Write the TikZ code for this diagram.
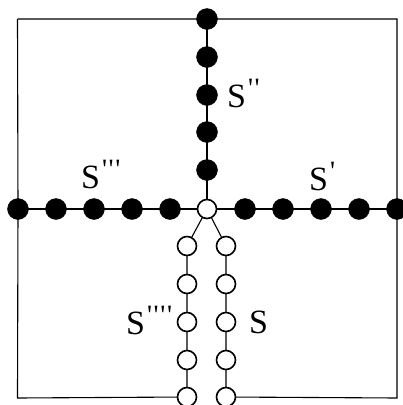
\documentclass[tikz,border=0pt]{standalone}
\usepackage{fontspec}
\setmainfont{Liberation Serif}
\newcommand{\tick}{\textquotesingle\hspace{1.6pt}}
\newcommand{\prm}[1]{\hspace{2pt}\raisebox{10pt}{\fontsize{28}{28}\selectfont #1}}
\begin{document}
\begin{tikzpicture}[x=1pt,y=-1pt,
  full/.style={circle,fill=black,draw=black,minimum size=21pt,inner sep=0pt},
  hollow/.style={circle,fill=white,draw=black,line width=1.6pt,minimum size=19pt,inner sep=0pt},
  edge/.style={line width=1.1pt},
  lab/.style={font=\fontsize{34}{36}\selectfont,inner sep=0pt,anchor=base west}]
\useasboundingbox (0,0) rectangle (403,405);
% corners
\coordinate (TL) at (17.5,19);
\coordinate (TR) at (397,19);
\coordinate (BL) at (17.5,398);
\coordinate (BR) at (397,398);
% centre
\coordinate (C) at (207,209);
% vertical up
\foreach \i/\y in {1/19,2/57,3/95,4/132,5/170} {\coordinate (u\i) at (207,\y);}
% left
\foreach \i/\x in {1/170,2/132,3/94,4/56,5/18} {\coordinate (l\i) at (\x,209);}
% right
\foreach \i/\x in {1/245,2/283,3/321,4/359,5/397} {\coordinate (r\i) at (\x,209);}
% lower chains
\foreach \i/\y in {1/246,2/284,3/322,4/360,5/397} {\coordinate (a\i) at (187,\y); \coordinate (b\i) at (226,\y);}
% edges
\draw[edge] (TL) -- (u1) -- (TR) -- (r5) -- (BR) -- (b5);
\draw[edge] (TL) -- (l5) -- (BL) -- (a5);
\draw[edge] (u1) -- (u2) -- (u3) -- (u4) -- (u5) -- (C);
\draw[edge] (C) -- (l1) -- (l2) -- (l3) -- (l4) -- (l5);
\draw[edge] (C) -- (r1) -- (r2) -- (r3) -- (r4) -- (r5);
\draw[edge] (C) -- (a1) -- (a2) -- (a3) -- (a4) -- (a5);
\draw[edge] (C) -- (b1) -- (b2) -- (b3) -- (b4) -- (b5);
% nodes
\foreach \i in {1,...,5} {
  \node[full] (nu\i) at (u\i) {};
  \node[full] (nl\i) at (l\i) {};
  \node[full] (nr\i) at (r\i) {};
  \node[hollow] (na\i) at (a\i) {};
  \node[hollow] (nb\i) at (b\i) {};
}
\node[hollow] (nc) at (C) {};
% labels
\node[lab] (s2) at (227,107) {S\prm{\tick\tick}};
\node[lab] (s3) at (81,188) {S\prm{\tick\tick\tick}};
\node[lab] (s1) at (309,190) {S\prm{\tick}};
\node[lab] (s4) at (126,334) {S\prm{\tick\tick\tick\tick}};
\node[lab] (s0) at (249,333) {S};
\end{tikzpicture}
\end{document}
